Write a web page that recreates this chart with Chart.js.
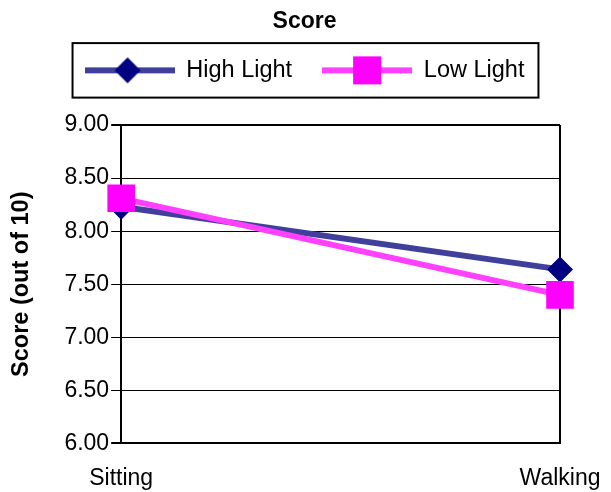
<!DOCTYPE html>
<html>
<head>
<meta charset="utf-8">
<script src="https://cdn.jsdelivr.net/npm/chart.js@4"></script>
<style>
  html, body { margin: 0; padding: 0; background: #ffffff; }
  #wrap { width: 611px; height: 492px; }
</style>
</head>
<body>
<div id="wrap"><canvas id="chart" width="611" height="492"></canvas></div>
<script>
// Score by activity under two lighting conditions
const categories = ['Sitting', 'Walking'];
const highLight = [8.23, 7.64];
const lowLight = [8.31, 7.40];
const seriesNames = ['High Light', 'Low Light'];
const yTicks = { min: 6, max: 9, step: 0.5 };

const FONT = "'Liberation Sans', Arial, Helvetica, sans-serif";
const HIGH_LINE = '#40409c';
const HIGH_MARK = '#000080';
const LOW_LINE = '#ff40ff';
const LOW_MARK = '#ff00ff';

// Legend swatch: a short thick line with the series marker in the middle
function swatch(lineColor, markColor, shape) {
  const c = document.createElement('canvas');
  c.width = 90; c.height = 30;
  const g = c.getContext('2d');
  g.strokeStyle = lineColor;
  g.lineWidth = 6;
  g.beginPath(); g.moveTo(0, 15); g.lineTo(90, 15); g.stroke();
  g.fillStyle = markColor;
  if (shape === 'diamond') {
    g.beginPath();
    g.moveTo(43, 2); g.lineTo(56, 15); g.lineTo(43, 28); g.lineTo(30, 15);
    g.closePath(); g.fill();
  } else {
    g.fillRect(31, 1, 28, 28);
  }
  return c;
}
const highSwatch = swatch(HIGH_LINE, HIGH_MARK, 'diamond');
const lowSwatch = swatch(LOW_LINE, LOW_MARK, 'square');

// Extra room between the legend and the plot, and a frame around the legend
const legendFrame = {
  id: 'legendFrame',
  beforeInit(chart) {
    const fit = chart.legend.fit;
    chart.legend.fit = function () { fit.call(this); this.height += 33; };
  },
  afterDraw(chart) {
    const boxes = chart.legend.legendHitBoxes;
    if (!boxes || !boxes.length) return;
    const left = Math.min(...boxes.map(b => b.left)) - 12;
    const right = Math.max(...boxes.map(b => b.left + b.width)) + 14;
    const top = boxes[0].top - 15.5;
    const bottom = boxes[0].top + boxes[0].height + 15.5;
    const ctx = chart.ctx;
    ctx.save();
    ctx.strokeStyle = '#000000';
    ctx.lineWidth = 2;
    ctx.strokeRect(left, top, right - left, bottom - top);
    ctx.restore();
  }
};

new Chart(document.getElementById('chart'), {
  type: 'line',
  data: {
    labels: categories,
    datasets: [
      {
        label: seriesNames[0],
        data: highLight,
        borderColor: HIGH_LINE,
        backgroundColor: HIGH_MARK,
        borderWidth: 6,
        pointStyle: 'rectRot',
        pointRadius: 13,
        pointBorderWidth: 0,
        pointBackgroundColor: HIGH_MARK,
        tension: 0,
        order: 1
      },
      {
        label: seriesNames[1],
        data: lowLight,
        borderColor: LOW_LINE,
        backgroundColor: LOW_MARK,
        borderWidth: 6,
        pointStyle: 'rect',
        pointRadius: 19.5,
        pointBorderWidth: 0,
        pointBackgroundColor: LOW_MARK,
        tension: 0,
        order: 0
      }
    ]
  },
  options: {
    responsive: false,
    animation: false,
    devicePixelRatio: 1,
    layout: { autoPadding: false, padding: { left: 49, right: 51, top: 0, bottom: 0 } },
    plugins: {
      tooltip: { enabled: false },
      title: {
        display: true,
        text: 'Score',
        color: '#000000',
        font: { family: FONT, size: 23, weight: 'bold' },
        padding: { top: 8, bottom: -7 }
      },
      legend: {
        display: true,
        position: 'top',
        labels: {
          usePointStyle: true,
          pointStyleWidth: 90,
          padding: 30,
          color: '#000000',
          font: { family: FONT, size: 23.5 },
          sort: (a, b) => a.datasetIndex - b.datasetIndex,
          generateLabels(chart) {
            return chart.data.datasets.map((ds, i) => ({
              text: ds.label,
              datasetIndex: i,
              pointStyle: i === 0 ? highSwatch : lowSwatch,
              fillStyle: ds.backgroundColor,
              strokeStyle: ds.borderColor,
              lineWidth: 0,
              hidden: false
            }));
          }
        }
      }
    },
    scales: {
      x: {
        offset: false,
        grid: {
          display: true,
          color: '#000000',
          lineWidth: 2,
          drawTicks: true,
          tickLength: 21,
          tickColor: 'rgba(0,0,0,0)'
        },
        border: { display: true, color: '#000000', width: 2 },
        ticks: {
          color: '#000000',
          padding: 0,
          font: { family: FONT, size: 23 }
        }
      },
      y: {
        min: yTicks.min,
        max: yTicks.max,
        grid: {
          color: '#000000',
          lineWidth: (c) => (c.index === 0 || c.tick && c.tick.value === yTicks.max) ? 2 : 1,
          tickLength: 10
        },
        border: { display: true, color: '#000000', width: 2 },
        ticks: {
          stepSize: yTicks.step,
          color: '#000000',
          padding: 2,
          font: { family: FONT, size: 23 },
          callback: (v) => Number(v).toFixed(2)
        },
        title: {
          display: true,
          text: 'Score (out of 10)',
          color: '#000000',
          font: { family: FONT, size: 23.5, weight: 'bold' },
          padding: { top: -42, bottom: 27.2 }
        }
      }
    }
  },
  plugins: [legendFrame]
});
</script>
</body>
</html>
